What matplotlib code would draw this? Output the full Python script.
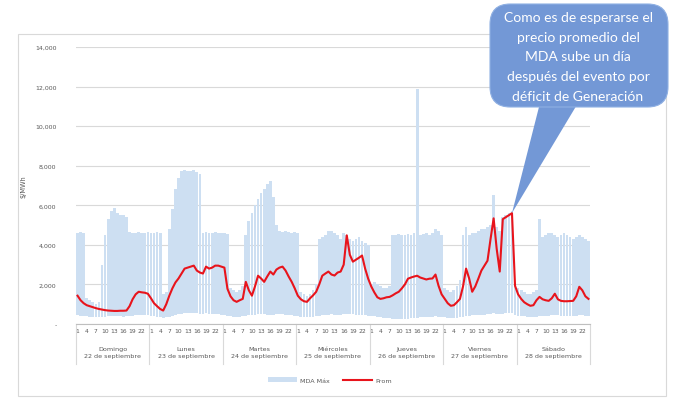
import matplotlib
matplotlib.use("Agg")
import matplotlib.pyplot as plt
from matplotlib.patches import FancyBboxPatch, Polygon, Rectangle, Patch
from matplotlib.lines import Line2D
import matplotlib.transforms as mtransforms
import numpy as np

days = ["Domingo\n22 de septiembre", "Lunes\n23 de septiembre", "Martes\n24 de septiembre",
        "Miércoles\n25 de septiembre", "Jueves\n26 de septiembre", "Viernes\n27 de septiembre",
        "Sábado\n28 de septiembre"]
hour_labels = [1, 4, 7, 10, 13, 16, 19, 22]
y_ticks = [0, 2000, 4000, 6000, 8000, 10000, 12000, 14000]

prom = [
    1430, 1200, 1050, 950, 900, 850, 800, 760, 730, 700, 680, 670, 660, 660, 670, 670, 680, 900, 1250, 1500, 1630, 1600, 1580, 1530,
    1300, 1050, 900, 760, 680, 1000, 1430, 1800, 2100, 2300, 2550, 2800, 2850, 2900, 2950, 2700, 2600, 2550, 2900, 2800, 2850, 2950, 2950, 2900,
    2850, 1780, 1400, 1200, 1120, 1200, 1270, 2130, 1700, 1430, 1900, 2440, 2300, 2130, 2400, 2650, 2500, 2750, 2850, 2900, 2700, 2400, 2130, 1800,
    1430, 1250, 1150, 1120, 1300, 1450, 1630, 2000, 2440, 2550, 2650, 2500, 2450, 2600, 2650, 3000, 4480, 3500, 3150, 3250, 3350, 3460, 2800, 2290,
    1900, 1600, 1350, 1270, 1300, 1350, 1370, 1450, 1550, 1630, 1800, 2000, 2290, 2350, 2400, 2440, 2350, 2300, 2250, 2290, 2300, 2500, 1930, 1500,
    1270, 1050, 920, 950, 1100, 1270, 1900, 2800, 2300, 1630, 1900, 2290, 2700, 2950, 3200, 4300, 5340, 3800, 2650, 5300, 5400, 5500, 5600, 1930,
    1500, 1270, 1100, 1000, 920, 950, 1200, 1370, 1250, 1200, 1170, 1300, 1530, 1250, 1170, 1150, 1150, 1160, 1170, 1400, 1880, 1700, 1400, 1270,
]

mda_max = [
    4600, 4650, 4600, 1300, 1200, 1100, 1000, 1100, 3000, 4500, 5300, 5700, 5850, 5600, 5500, 5500, 5400, 4650, 4600, 4600, 4650, 4600, 4600, 4650,
    4600, 4600, 4650, 4600, 1500, 1600, 4800, 5800, 6800, 7400, 7750, 7800, 7750, 7750, 7800, 7700, 7600, 4600, 4650, 4600, 4600, 4650, 4600, 4600,
    4600, 4550, 1800, 1700, 1600, 1700, 1900, 4500, 5200, 5600, 6000, 6300, 6600, 6800, 7100, 7250, 6400, 5000, 4700, 4650, 4700, 4650, 4600, 4650,
    4600, 1600, 1500, 1400, 1500, 1700, 2000, 4300, 4400, 4500, 4700, 4700, 4600, 4500, 4300, 4600, 4500, 4300, 4200, 4300, 4400, 4200, 4100, 4000,
    2000, 2100, 2000, 1900, 1800, 1800, 1900, 4500, 4500, 4550, 4500, 4500, 4550, 4500, 4600, 11900, 4500, 4550, 4600, 4500, 4600, 4800, 4700, 4500,
    1800, 1700, 1600, 1700, 1900, 2200, 4500, 4900, 4500, 4600, 4600, 4700, 4800, 4800, 4900, 5000, 6500, 4900, 4700, 5400, 5500, 5600, 5700, 2000,
    1800, 1700, 1600, 1500, 1500, 1600, 1700, 5300, 4400, 4500, 4600, 4600, 4500, 4400, 4500, 4600, 4500, 4400, 4300, 4400, 4500, 4400, 4300, 4200,
]

mda_min = [
    450, 420, 400, 380, 360, 350, 350, 340, 350, 360, 380, 400, 420, 400, 380, 370, 380, 400, 420, 450, 480, 460, 450, 430,
    400, 380, 350, 330, 320, 330, 360, 400, 450, 500, 520, 550, 560, 560, 550, 540, 530, 520, 540, 530, 520, 510, 500, 480,
    450, 420, 380, 360, 350, 360, 380, 420, 450, 470, 480, 500, 500, 490, 480, 470, 480, 500, 500, 490, 470, 450, 430, 400,
    380, 360, 340, 330, 340, 360, 380, 420, 450, 470, 480, 490, 480, 470, 480, 500, 520, 500, 490, 480, 470, 460, 440, 420,
    400, 380, 350, 330, 320, 300, 280, 270, 260, 260, 250, 260, 270, 280, 300, 320, 330, 340, 350, 360, 370, 380, 370, 350,
    340, 320, 300, 300, 310, 330, 360, 400, 420, 440, 450, 460, 470, 480, 500, 520, 540, 520, 500, 520, 540, 550, 560, 480,
    420, 400, 380, 360, 350, 350, 360, 380, 400, 410, 420, 430, 440, 430, 420, 410, 400, 400, 410, 420, 440, 430, 410, 400,
]

W, H = 678, 402
fig = plt.figure(figsize=(W / 100, H / 100), dpi=100)
fig.patch.set_facecolor("white")

# outer chart border
fig.patches.append(Rectangle((18 / W, 1 - 397 / H), (666 - 18) / W, (397 - 35) / H,
                             transform=fig.transFigure, fill=False, edgecolor="#d9d9d9", lw=0.8, zorder=0))

ax = fig.add_axes([76 / W, 1 - 325 / H, (590 - 76) / W, (325 - 48) / H])
ax.set_facecolor("white")

n = len(prom)
x = np.arange(n)
mx = np.array(mda_max)
mn = np.array(mda_min)
ax.bar(x, mx - mn, bottom=mn, width=0.9, color="#cddff2", edgecolor="none", zorder=2)
ax.plot(x, prom, color="#e8141c", lw=1.5, zorder=4, solid_joinstyle="round")

ax.set_xlim(-0.5, n - 0.5)
ax.set_ylim(0, 14000)
ax.set_yticks(y_ticks)
ax.set_yticklabels([f"{v:,}" if v else "-" for v in y_ticks])
ax.yaxis.grid(True, color="#d9d9d9", lw=0.8, zorder=0)
ax.set_axisbelow(True)
for s in ["top", "right", "left"]:
    ax.spines[s].set_visible(False)
ax.spines["bottom"].set_color("#bfbfbf")
ax.spines["bottom"].set_linewidth(0.8)

xt = [d * 24 + h - 1 for d in range(len(days)) for h in hour_labels]
xl = [str(h) for d in range(len(days)) for h in hour_labels]
ax.set_xticks(xt)
ax.set_xticklabels(xl)
ax.tick_params(axis="x", length=0, labelsize=4.3, colors="#595959", pad=3)
ax.tick_params(axis="y", length=0, labelsize=4.5, colors="#595959", pad=14)
ax.set_ylabel("$/MWh", fontsize=4.8, color="#595959", labelpad=6)

trans = mtransforms.blended_transform_factory(ax.transData, ax.transAxes)
for d in range(len(days) + 1):
    xb = d * 24 - 0.5
    ax.plot([xb, xb], [0, -0.145], transform=trans, color="#d9d9d9", lw=0.8, clip_on=False)
for d, lab in enumerate(days):
    ax.text(d * 24 + 11.5, -0.10, lab, transform=trans, ha="center", va="center",
            fontsize=4.6, color="#595959", linespacing=1.5)

handles = [Patch(facecolor="#cddff2", edgecolor="none", label="MDA Máx"),
           Line2D([0], [0], color="#e8141c", lw=1.5, label="Prom")]
fig.legend(handles=handles, loc="center", bbox_to_anchor=(330 / W, 1 - 381 / H), ncol=2,
           frameon=False, fontsize=4.6, labelcolor="#595959", handlelength=4.5, columnspacing=2.0,
           handletextpad=0.5)

# callout
def fx(px):
    return px / W

def fy(py):
    return 1 - py / H

callout_color = "#7398d6"
tail = Polygon([(fx(540), fy(104)), (fx(578), fy(104)), (fx(512), fy(214))], closed=True,
               transform=fig.transFigure, facecolor=callout_color, edgecolor="none", zorder=5)
fig.patches.append(tail)
box = FancyBboxPatch((fx(490), fy(108)), fx(668) - fx(490), fy(5) - fy(108),
                     boxstyle="round,pad=0,rounding_size=0.03", transform=fig.transFigure,
                     facecolor=callout_color, edgecolor="#8fb0e3", lw=0.8, zorder=6,
                     mutation_aspect=W / H)
fig.patches.append(box)
lines = ["Como es de esperarse el", "precio promedio del", "MDA sube un día",
         "después del evento por", "déficit de Generación"]
for i, t in enumerate(lines):
    fig.text(fx(578), fy(18 + i * 19.7), t, ha="center", va="center", color="white",
             fontsize=10, family=["Lato", "DejaVu Sans"], zorder=7)

fig.savefig("out.png", dpi=100)
